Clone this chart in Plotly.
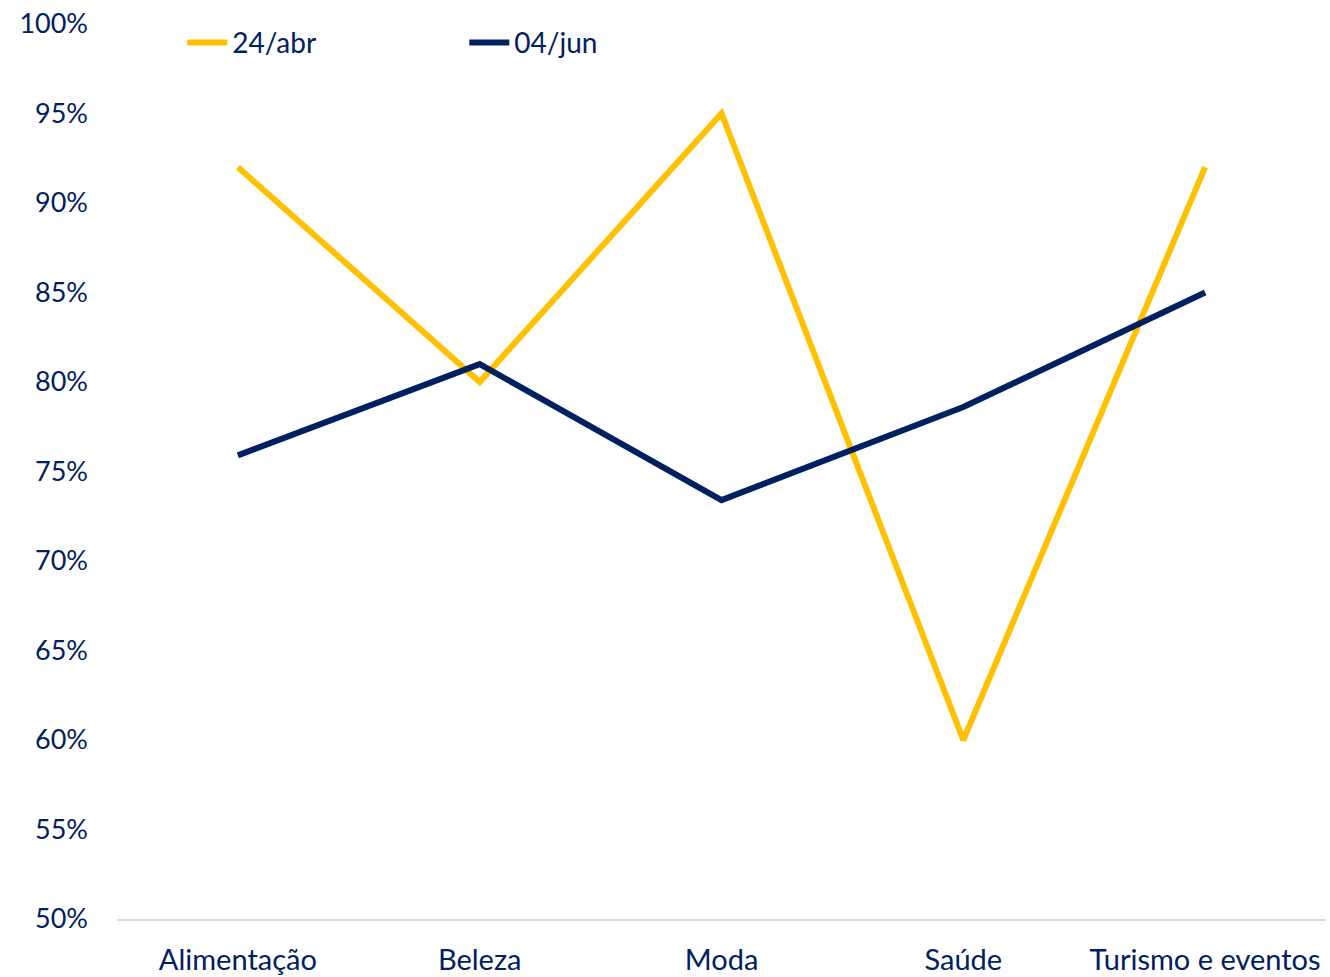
import plotly.graph_objects as go

categories = ["Alimentação", "Beleza", "Moda", "Saúde", "Turismo e eventos"]
abr_24 = [0.92, 0.80, 0.95, 0.60, 0.92]
jun_04 = [0.759, 0.81, 0.734, 0.786, 0.85]
series_names = ["24/abr", "04/jun"]
y_ticks = [0.50, 0.55, 0.60, 0.65, 0.70, 0.75, 0.80, 0.85, 0.90, 0.95, 1.00]

navy = "#002060"
gold = "#FFC000"
font = "Lato, 'Open Sans', sans-serif"

fig = go.Figure()
fig.add_trace(go.Scatter(x=categories, y=abr_24, name=series_names[0], mode="lines",
                         line=dict(color=gold, width=6)))
fig.add_trace(go.Scatter(x=categories, y=jun_04, name=series_names[1], mode="lines",
                         line=dict(color=navy, width=6)))

fig.update_layout(
    width=1330, height=977,
    margin=dict(l=117, r=4, t=24, b=58),
    paper_bgcolor="white", plot_bgcolor="white",
    font=dict(family=font, size=26, color=navy),
    showlegend=True,
    legend=dict(orientation="h", x=0.054, y=0.979, xanchor="left", yanchor="middle",
                entrywidth=227, entrywidthmode="pixels", bgcolor="rgba(0,0,0,0)",
                font=dict(size=28, color=navy), itemwidth=40, tracegroupgap=0),
    xaxis=dict(showgrid=False, showline=True, linecolor="#D9D9D9", linewidth=2,
               ticks="", ticklabelstandoff=14, tickfont=dict(size=29, color=navy),
               range=[-0.5, 4.5], fixedrange=True, automargin=False),
    yaxis=dict(range=[0.5, 1.0], tickvals=y_ticks, tickformat=".0%", showgrid=False,
               zeroline=False, showline=False, ticks="", ticklabelstandoff=28,
               tickfont=dict(size=27, color=navy), automargin=False),
)

fig.write_html("out.html")
